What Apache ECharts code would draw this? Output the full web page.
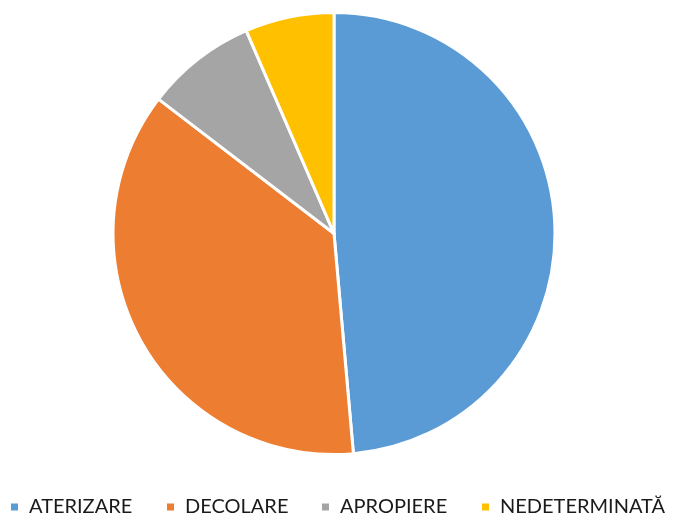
<!DOCTYPE html>
<html>
<head>
<meta charset="utf-8">
<script src="https://cdn.jsdelivr.net/npm/echarts@6/dist/echarts.min.js"></script>
<style>
html, body { margin: 0; padding: 0; background: #fff; }
#main { width: 674px; height: 521px; }
</style>
</head>
<body>
<div id="main"></div>
<script>
var categories = ['ATERIZARE', 'DECOLARE', 'APROPIERE', 'NEDETERMINATĂ'];
var values = [48.6, 36.8, 8.1, 6.5];
var colors = ['#5B9BD5', '#ED7D31', '#A5A5A5', '#FFC000'];
var legendLeft = [9, 165, 320, 480];

var myChart = echarts.init(document.getElementById('main'));

var legends = categories.map(function(name, i) {
	return {
		data: [name],
		left: legendLeft[i],
		top: 497,
		padding: 0,
		itemWidth: 9,
		itemHeight: 9,
		icon: 'rect',
		selectedMode: false,
		textStyle: {
			fontFamily: 'Lato',
			fontSize: 20,
			color: '#1a1a1a',
			padding: [6, 0, 0, 5]
		}
	};
});

myChart.setOption({
	animation: false,
	color: colors,
	legend: legends,
	series: [
		{
			type: 'pie',
			center: [334, 233.5],
			radius: 221,
			startAngle: 90,
			clockwise: true,
			label: { show: false },
			labelLine: { show: false },
			itemStyle: {
				borderColor: '#fff',
				borderWidth: 3
			},
			data: categories.map(function(name, i) {
				return { name: name, value: values[i] };
			})
		}
	]
});
</script>
</body>
</html>
